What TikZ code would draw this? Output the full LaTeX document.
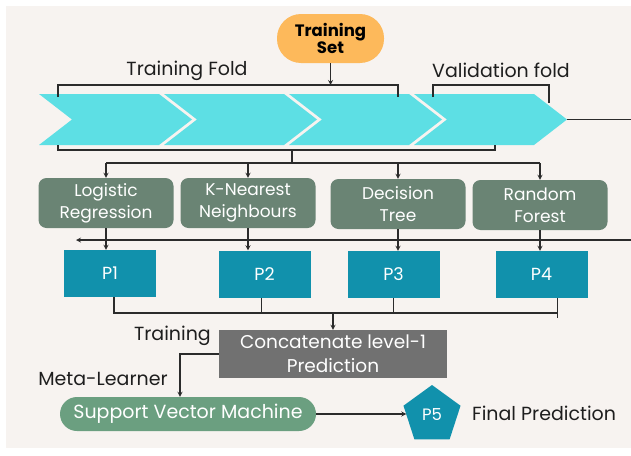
\documentclass[tikz,border=0pt]{standalone}
\usepackage{fontspec}
\setmainfont{Poppins}
\usepackage{tikz}
\usetikzlibrary{shapes,arrows,positioning,calc}
\definecolor{bgbeige}{HTML}{F7F3F0}
\definecolor{foldcyan}{HTML}{5DDFE4}
\definecolor{setorange}{HTML}{FDB95B}
\definecolor{modelgreen}{HTML}{6A8474}
\definecolor{pteal}{HTML}{1191AC}
\definecolor{catgray}{HTML}{717171}
\definecolor{svmgreen}{HTML}{6B9F80}
\definecolor{linegray}{HTML}{2B2B2B}
\definecolor{inkdark}{HTML}{1E1E1E}

\begin{document}
\begin{tikzpicture}[
			x=1pt, y=-1pt,
			link/.style={draw=linegray, line width=1.2pt},
			arrow/.style={-stealth, draw=linegray, line width=1.2pt},
			fold/.style={fill=foldcyan},
			setpill/.style={rectangle, fill=setorange, rounded corners=24pt, minimum width=107pt, minimum height=49pt, align=center, text=black, font=\fontsize{16.5}{15}\selectfont\bfseries},
			model/.style={rectangle, fill=modelgreen, rounded corners=8pt, minimum width=135pt, minimum height=50pt, align=center, text=white, font=\fontsize{17}{22}\selectfont},
			pbox/.style={rectangle, fill=pteal, minimum width=92pt, minimum height=47pt, text=white, font=\fontsize{17.5}{18}\selectfont},
			catbox/.style={rectangle, fill=catgray, minimum width=228pt, minimum height=48pt, align=center, text=white, font=\fontsize{18.5}{24}\selectfont},
			svmbox/.style={rectangle, fill=svmgreen, rounded corners=17pt, minimum width=256pt, minimum height=34pt, text=white, font=\fontsize{19}{20}\selectfont},
			pent/.style={regular polygon, regular polygon sides=5, fill=pteal, minimum size=60pt, inner sep=0pt, text=white, font=\fontsize{16.5}{18}\selectfont},
			tag/.style={inner sep=0pt, text=inkdark, font=\fontsize{19}{20}\selectfont}
			]
			
			% Canvas
			\useasboundingbox (0,0) rectangle (631,455);
			\fill[white] (0,0) rectangle (631,455);
			\fill[bgbeige] (6,6) rectangle (631,448);
			
			% Training set
			\node[setpill] (ts) at (330.5,38.5) {Training\\Set};
			
			% Folds
			\foreach \i in {0,...,3} {
				\pgfmathsetmacro\xl{39+125*\i}
				\fill[fold] (\xl,94) -- ++(120,0) -- ++(33,25.5) -- ++(-33,25.5) -- ++(-120,0) -- ++(33,-25.5) -- cycle;
				\coordinate (tip\i) at (\xl+153,119.5);
			}
			
			\node[tag] (trfold) at (187,71) {Training Fold};
			\node[tag] (valfold) at (501,70) {Validation fold};
			
			% Brackets
			\coordinate (trL) at (58,85);
			\coordinate (trR) at (398,85);
			\coordinate (vaL) at (433,85);
			\coordinate (vaR) at (549,85);
			\draw[link] ($(trL)+(0,12)$) -- (trL) -- (trR) -- ($(trR)+(0,12)$);
			\draw[link] ($(vaL)+(0,12)$) -- (vaL) -- (vaR) -- ($(vaR)+(0,18)$);
			\coordinate (allL) at (58,150);
			\coordinate (allR) at (495,150);
			\draw[link] ($(allL)+(0,-5)$) -- (allL) -- (allR) -- ($(allR)+(0,-5)$);
			\coordinate (allmid) at (292,150);
			\coordinate (split) at (292,163);
			
			\draw[arrow] (ts.south) -- (ts.south |- trL);
			
			% Base models
			\node[model] (lr) at (106,203) {Logistic\\Regression};
			\node[model] (knn) at (248,203) {K-Nearest\\Neighbours};
			\node[model] (dt) at (398,204) {Decision\\Tree};
			\node[model] (rf) at (540,205) {Random\\Forest};
			
			\draw[link] (allmid) -- (split);
			\draw[link] (split -| lr) -- (split -| rf);
			\foreach \m in {lr,knn,dt,rf}
				\draw[arrow] (split -| \m.north) -- (\m.north);
			
			% Predictions
			\node[pbox] (p1) at (110,273.5) {P1};
			\node[pbox] (p2) at (264.5,274) {P2};
			\node[pbox] (p3) at (393.5,274.5) {P3};
			\node[pbox] (p4) at (541.5,274.5) {P4};
			
			\foreach \m/\p in {lr/p1,knn/p2,dt/p3,rf/p4}
				\draw[arrow] (\m.south) -- (\m.south |- \p.north);
			
			% Loop back from the last fold
			\coordinate (edgeTop) at (631,119.5);
			\coordinate (edgeLow) at (631,240);
			\coordinate (backEnd) at (76,240);
			\draw[link] (tip3) -- (edgeTop);
			\draw[arrow] (edgeLow) -- (backEnd);
			
			% Collect level-1 predictions
			\coordinate (coll) at (333,313);
			\draw[link] ($(p1.south)+(4,0)$) -- ($(p1.south |- coll)+(4,0)$) -- ($(p4.south |- coll)+(16,0)$) -- ++(0,5);
			\draw[link] ($(p2.south)+(-3,0)$) -- ($(p2.south |- coll)+(-3,0)$);
			\draw[link] (p3.south) -- (p3.south |- coll);
			\draw[link] ($(p4.south)+(16,0)$) -- ($(p4.south |- coll)+(16,0)$);
			
			\node[catbox] (cat) at (333,354) {Concatenate level-1\\Prediction};
			\draw[arrow] (coll) -- (cat.north);
			\node[tag, anchor=east] (trtag) at (211,336) {Training};
			
			% Meta learner
			\node[svmbox] (svm) at (188,414) {Support Vector Machine};
			\node[tag] (meta) at (103,379) {Meta-Learner};
			\draw[arrow] (cat.west) -| ($(svm.north)+(-8,0)$);
			
			\node[pent] (p5) at (432,415) {P5};
			\draw[arrow] (svm.east) -- (svm.east -| p5.west);
			\node[tag, anchor=west] (final) at (472,413) {Final Prediction};
			
		\end{tikzpicture}
\end{document}
